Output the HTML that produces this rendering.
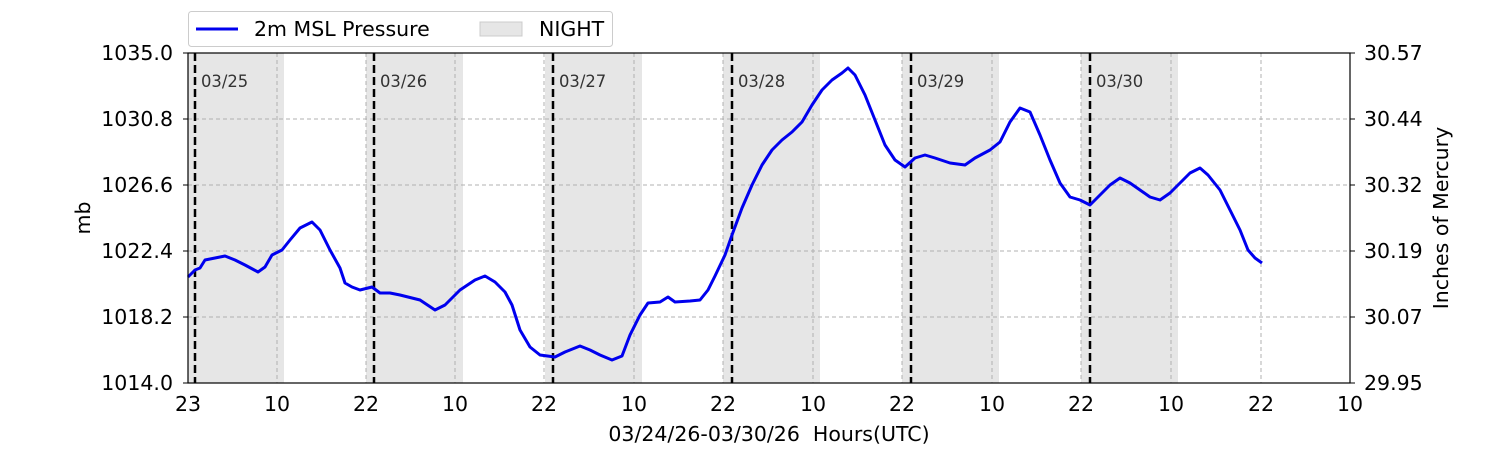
<!DOCTYPE html>
<html><head><meta charset="utf-8"><style>
body{margin:0;background:#fff}
svg text{font-family:"DejaVu Sans","Liberation Sans",sans-serif}
</style></head><body>
<svg width="1500" height="450" viewBox="0 0 1500 450" xmlns="http://www.w3.org/2000/svg">
<rect width="1500" height="450" fill="#fff"/>
<g fill="#e6e6e6">
<rect x="188" y="53" width="96" height="330"/>
<rect x="366" y="53" width="97" height="330"/>
<rect x="545" y="53" width="97" height="330"/>
<rect x="723" y="53" width="97" height="330"/>
<rect x="902" y="53" width="97" height="330"/>
<rect x="1081" y="53" width="97" height="330"/>
</g>
<g stroke="#b0b0b0" stroke-width="1" stroke-dasharray="4,3">
<line x1="188" y1="119" x2="1350" y2="119"/><line x1="188" y1="185" x2="1350" y2="185"/>
<line x1="188" y1="251" x2="1350" y2="251"/><line x1="188" y1="317" x2="1350" y2="317"/>
<line x1="277" y1="53" x2="277" y2="383"/><line x1="366" y1="53" x2="366" y2="383"/>
<line x1="455" y1="53" x2="455" y2="383"/><line x1="544" y1="53" x2="544" y2="383"/>
<line x1="634" y1="53" x2="634" y2="383"/><line x1="723" y1="53" x2="723" y2="383"/>
<line x1="813" y1="53" x2="813" y2="383"/><line x1="902" y1="53" x2="902" y2="383"/>
<line x1="992" y1="53" x2="992" y2="383"/><line x1="1081" y1="53" x2="1081" y2="383"/>
<line x1="1171" y1="53" x2="1171" y2="383"/><line x1="1261" y1="53" x2="1261" y2="383"/>
</g>
<g stroke="#000" stroke-width="2.5" stroke-dasharray="8,4">
<line x1="195" y1="53" x2="195" y2="383"/><line x1="374" y1="53" x2="374" y2="383"/>
<line x1="553" y1="53" x2="553" y2="383"/><line x1="732" y1="53" x2="732" y2="383"/>
<line x1="911" y1="53" x2="911" y2="383"/><line x1="1090" y1="53" x2="1090" y2="383"/>
</g>
<g font-size="16.4" fill="#333">
<text x="201" y="87">03/25</text><text x="380" y="87">03/26</text><text x="559" y="87">03/27</text>
<text x="738" y="87">03/28</text><text x="917" y="87">03/29</text><text x="1096" y="87">03/30</text>
</g>
<polyline fill="none" stroke="#0000ee" stroke-width="3" stroke-linejoin="round" points="188,277 195,270 200,268 205,260 215,258 225,256 235,260 245,265 258,272 265,267 272,255 282,250 290,240 300,228 312,222 320,230 330,250 340,268 345,283 352,287 360,290 372,287 380,293 390,293 400,295 420,300 435,310 445,305 460,290 475,280 485,276 495,282 505,292 512,305 520,330 530,347 540,355 555,357 565,352 580,346 590,350 600,355 612,360 622,356 630,335 640,315 648,303 660,302 668,297 675,302 690,301 700,300 708,290 715,276 725,255 732,235 742,208 752,185 762,165 772,150 782,140 792,132 802,122 812,105 822,90 832,80 842,73 848,68 855,75 865,95 875,120 885,145 895,160 905,167 915,158 925,155 935,158 950,163 965,165 975,158 990,150 1000,142 1010,122 1020,108 1030,112 1040,135 1050,160 1060,183 1070,197 1080,200 1090,205 1100,195 1110,185 1120,178 1130,183 1140,190 1150,197 1160,200 1170,193 1180,183 1190,173 1200,168 1208,175 1220,190 1230,210 1240,230 1248,250 1255,258 1262,263"/>
<rect x="188" y="53" width="1162" height="330" fill="none" stroke="#000" stroke-width="1.2"/>
<g stroke="#000" stroke-width="1">
<line x1="183" y1="53" x2="188" y2="53"/><line x1="183" y1="119" x2="188" y2="119"/><line x1="183" y1="185" x2="188" y2="185"/>
<line x1="183" y1="251" x2="188" y2="251"/><line x1="183" y1="317" x2="188" y2="317"/><line x1="183" y1="383" x2="188" y2="383"/>
<line x1="1350" y1="53" x2="1355" y2="53"/><line x1="1350" y1="119" x2="1355" y2="119"/><line x1="1350" y1="185" x2="1355" y2="185"/>
<line x1="1350" y1="251" x2="1355" y2="251"/><line x1="1350" y1="317" x2="1355" y2="317"/><line x1="1350" y1="383" x2="1355" y2="383"/>
</g>
<g font-size="20.5" fill="#000" text-anchor="end">
<text x="173" y="60">1035.0</text><text x="173" y="126">1030.8</text><text x="173" y="192">1026.6</text>
<text x="173" y="258">1022.4</text><text x="173" y="324">1018.2</text><text x="173" y="390">1014.0</text>
</g>
<g font-size="20.5" fill="#000">
<text x="1364" y="60">30.57</text><text x="1364" y="126">30.44</text><text x="1364" y="192">30.32</text>
<text x="1364" y="258">30.19</text><text x="1364" y="324">30.07</text><text x="1364" y="390">29.95</text>
</g>
<g font-size="20.5" fill="#000" text-anchor="middle">
<text x="188" y="411">23</text><text x="277" y="411">10</text><text x="366" y="411">22</text><text x="455" y="411">10</text>
<text x="544" y="411">22</text><text x="634" y="411">10</text><text x="723" y="411">22</text><text x="813" y="411">10</text>
<text x="902" y="411">22</text><text x="992" y="411">10</text><text x="1081" y="411">22</text><text x="1171" y="411">10</text>
<text x="1261" y="411">22</text><text x="1350" y="411">10</text>
<text x="769" y="441" xml:space="preserve">03/24/26-03/30/26  Hours(UTC)</text>
<text transform="translate(90,218) rotate(-90)">mb</text>
<text transform="translate(1448,218) rotate(-90)">Inches of Mercury</text>
</g>
<rect x="188.5" y="11.5" width="424" height="35" rx="3" fill="#fff" stroke="#ccc"/>
<line x1="196" y1="29" x2="238" y2="29" stroke="#0000ee" stroke-width="3"/>
<text x="254" y="36" font-size="20.5">2m MSL Pressure</text>
<rect x="480" y="22" width="42" height="14" fill="#e6e6e6" stroke="#ccc"/>
<text x="539" y="36" font-size="20.5">NIGHT</text>
</svg>
</body></html>
